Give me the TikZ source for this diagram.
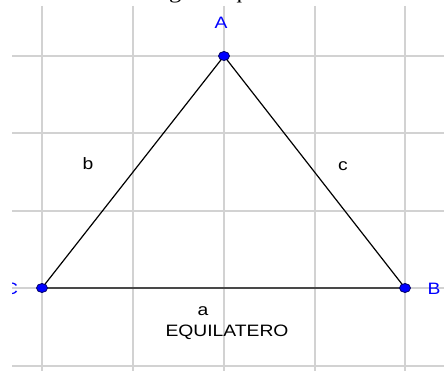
\documentclass[tikz,border=0pt]{standalone}
\usepackage{fontspec}
\setmainfont{Liberation Serif}
\setsansfont{Liberation Sans}
\definecolor{gridgray}{RGB}{210,210,210}
\definecolor{ptblue}{RGB}{0,0,255}
\newcommand{\wide}[1]{\scalebox{1.17}[1]{#1}}
\tikzset{
  gridline/.style={line width=1.3pt, gridgray},
  side/.style={line width=1.2pt, black},
  pt/.style={fill=ptblue, draw=black!60!blue, line width=0.8pt},
  lbl/.style={inner sep=0pt, font=\sffamily\fontsize{16.5}{18}\selectfont},
}
\begin{document}
\begin{tikzpicture}[x=1pt,y=-1pt]
  \useasboundingbox (0,0) rectangle (444,371);
  % cut-off caption at the top
  \begin{scope}
    \clip (0,0) rectangle (444,371);
    \node[anchor=base west, inner sep=0pt, font=\rmfamily\fontsize{21}{23}\selectfont]
      (title) at (8,-1) {\wide{Gráfico 1: Triángulo equilátero}};
  \end{scope}
  % grid
  \foreach \x in {42,133,224,315,405} {
    \draw[gridline] (\x,6) -- (\x,371);
  }
  \foreach \y in {56,133,211,288,366} {
    \draw[gridline] (12,\y) -- (444,\y);
  }
  % vertices
  \coordinate (A) at (224,56);
  \coordinate (B) at (405,288);
  \coordinate (C) at (42,288);
  \draw[side] (A) -- (B) -- (C) -- cycle;
  \foreach \p in {A,B,C} {
    \draw[pt] (\p) ellipse [x radius=5.5pt, y radius=4.5pt];
  }
  % labels
  \node[lbl, ptblue] (labA) at (221,23) {\wide{A}};
  \node[lbl, ptblue] (labB) at (434,289) {\wide{B}};
  \begin{scope}
    \clip (12,0) rectangle (444,371);
    \node[lbl, ptblue] (labC) at (11,289) {\wide{C}};
  \end{scope}
  \node[lbl] (sideb) at (88,164) {\wide{b}};
  \node[lbl] (sidec) at (343,166) {\wide{c}};
  \node[lbl] (sidea) at (203,311) {\wide{a}};
  \node[lbl] (kind) at (227,332.5) {\wide{EQUILATERO}};
\end{tikzpicture}
\end{document}
